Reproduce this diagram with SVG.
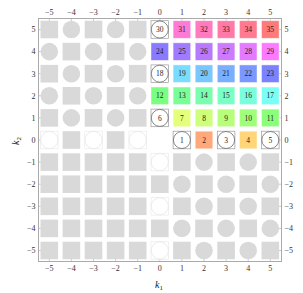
<svg xmlns="http://www.w3.org/2000/svg" xmlns:xlink="http://www.w3.org/1999/xlink" width="303" height="293" viewBox="0 0 303 293">
<style>
.gs{fill:#d9d9d9}
.cs{stroke:#ffffff;stroke-opacity:0.55;stroke-width:0.8}
.num{font-family:"Liberation Serif",serif;font-size:7.5px;text-anchor:middle;fill:#222}
.tl{font-family:"Liberation Serif",serif;font-size:8px;fill:#333}
.ax{fill:none;stroke:#aaaaaa;stroke-width:1}
.tk{stroke:#aaaaaa;stroke-width:0.6}
.lab{font-family:"Liberation Serif",serif;font-size:10px;font-style:italic;fill:#222}
</style>
<defs>
<rect id="gsq" class="gs" x="-8.8" y="-8.8" width="17.6" height="17.6"/>
<circle id="gci" class="gs" r="8.8"/>
<g id="fci"><rect x="-8.8" y="-8.8" width="17.6" height="17.6" fill="#fff" stroke="#ececec" stroke-width="0.7"/><circle r="8.6" fill="#fff" stroke="#e2e2e2" stroke-width="0.7"/></g>
<g id="nci"><rect x="-8.8" y="-8.8" width="17.6" height="17.6" fill="#fff" stroke="#9a9a9a" stroke-width="0.7"/><circle r="8.5" fill="#fff" stroke="#555" stroke-width="0.7"/></g>
<rect id="csq" class="cs" x="-8.8" y="-8.8" width="17.6" height="17.6"/>
</defs>
<g id="connectors"></g>
<g id="axes">
<rect class="ax" x="38.5" y="18.5" width="243" height="243"/>
<path class="tk" d="M49.3,18.5v3M71.4,18.5v3M93.5,18.5v3M115.6,18.5v3M137.7,18.5v3M159.8,18.5v3M181.9,18.5v3M204,18.5v3M226.1,18.5v3M248.2,18.5v3M270.3,18.5v3M49.3,261.5v-3M71.4,261.5v-3M93.5,261.5v-3M115.6,261.5v-3M137.7,261.5v-3M159.8,261.5v-3M181.9,261.5v-3M204,261.5v-3M226.1,261.5v-3M248.2,261.5v-3M270.3,261.5v-3M38.5,29.5h3M38.5,51.6h3M38.5,73.7h3M38.5,95.8h3M38.5,117.9h3M38.5,140h3M38.5,162.1h3M38.5,184.2h3M38.5,206.3h3M38.5,228.4h3M38.5,250.5h3M281.5,29.5h-3M281.5,51.6h-3M281.5,73.7h-3M281.5,95.8h-3M281.5,117.9h-3M281.5,140h-3M281.5,162.1h-3M281.5,184.2h-3M281.5,206.3h-3M281.5,228.4h-3M281.5,250.5h-3"/>
<g class="tl" text-anchor="middle">
<text x="49.3" y="14.5">−5</text><text x="71.4" y="14.5">−4</text><text x="93.5" y="14.5">−3</text><text x="115.6" y="14.5">−2</text><text x="137.7" y="14.5">−1</text><text x="159.8" y="14.5">0</text><text x="181.9" y="14.5">1</text><text x="204" y="14.5">2</text><text x="226.1" y="14.5">3</text><text x="248.2" y="14.5">4</text><text x="270.3" y="14.5">5</text>
<text x="49.3" y="271">−5</text><text x="71.4" y="271">−4</text><text x="93.5" y="271">−3</text><text x="115.6" y="271">−2</text><text x="137.7" y="271">−1</text><text x="159.8" y="271">0</text><text x="181.9" y="271">1</text><text x="204" y="271">2</text><text x="226.1" y="271">3</text><text x="248.2" y="271">4</text><text x="270.3" y="271">5</text>
</g>
<g class="tl" text-anchor="end">
<text x="35.5" y="32.3">5</text><text x="35.5" y="54.4">4</text><text x="35.5" y="76.5">3</text><text x="35.5" y="98.6">2</text><text x="35.5" y="120.7">1</text><text x="35.5" y="142.8">0</text><text x="35.5" y="164.9">−1</text><text x="35.5" y="187">−2</text><text x="35.5" y="209.1">−3</text><text x="35.5" y="231.2">−4</text><text x="35.5" y="253.3">−5</text>
</g>
<g class="tl" text-anchor="start">
<text x="284.5" y="32.3">5</text><text x="284.5" y="54.4">4</text><text x="284.5" y="76.5">3</text><text x="284.5" y="98.6">2</text><text x="284.5" y="120.7">1</text><text x="284.5" y="142.8">0</text><text x="284.5" y="164.9">−1</text><text x="284.5" y="187">−2</text><text x="284.5" y="209.1">−3</text><text x="284.5" y="231.2">−4</text><text x="284.5" y="253.3">−5</text>
</g>
<text class="lab" x="155" y="287.5">k<tspan font-size="7" dy="2" font-style="normal">1</tspan></text>
<text class="lab" transform="translate(19,145) rotate(-90)">k<tspan font-size="7" dy="2" font-style="normal">2</tspan></text>
</g>
<g id="cells">
<!-- row 5 -->
<g id="c_m5_5" transform="translate(49.3,29.5)"><use href="#gsq"/></g>
<g id="c_m4_5" transform="translate(71.4,29.5)"><use href="#gci"/></g>
<g id="c_m3_5" transform="translate(93.5,29.5)"><use href="#gsq"/></g>
<g id="c_m2_5" transform="translate(115.6,29.5)"><use href="#gci"/></g>
<g id="c_m1_5" transform="translate(137.7,29.5)"><use href="#gsq"/></g>
<g id="n30" transform="translate(159.8,29.5)"><use href="#nci"/><text class="num" y="2.6">30</text></g>
<g id="n31" transform="translate(181.9,29.5)"><use href="#csq" fill="#FF7AD5"/><text class="num" y="2.6">31</text></g>
<g id="n32" transform="translate(204,29.5)"><use href="#csq" fill="#FF7ABE"/><text class="num" y="2.6">32</text></g>
<g id="n33" transform="translate(226.1,29.5)"><use href="#csq" fill="#FF7AA8"/><text class="num" y="2.6">33</text></g>
<g id="n34" transform="translate(248.2,29.5)"><use href="#csq" fill="#FF7A91"/><text class="num" y="2.6">34</text></g>
<g id="n35" transform="translate(270.3,29.5)"><use href="#csq" fill="#FF7A7A"/><text class="num" y="2.6">35</text></g>
<!-- row 4 -->
<g id="c_m5_4" transform="translate(49.3,51.6)"><use href="#gci"/></g>
<g id="c_m4_4" transform="translate(71.4,51.6)"><use href="#gsq"/></g>
<g id="c_m3_4" transform="translate(93.5,51.6)"><use href="#gci"/></g>
<g id="c_m2_4" transform="translate(115.6,51.6)"><use href="#gsq"/></g>
<g id="c_m1_4" transform="translate(137.7,51.6)"><use href="#gci"/></g>
<g id="n24" transform="translate(159.8,51.6)"><use href="#csq" fill="#897AFF"/><text class="num" y="2.6">24</text></g>
<g id="n25" transform="translate(181.9,51.6)"><use href="#csq" fill="#A07AFF"/><text class="num" y="2.6">25</text></g>
<g id="n26" transform="translate(204,51.6)"><use href="#csq" fill="#B77AFF"/><text class="num" y="2.6">26</text></g>
<g id="n27" transform="translate(226.1,51.6)"><use href="#csq" fill="#CE7AFF"/><text class="num" y="2.6">27</text></g>
<g id="n28" transform="translate(248.2,51.6)"><use href="#csq" fill="#E47AFF"/><text class="num" y="2.6">28</text></g>
<g id="n29" transform="translate(270.3,51.6)"><use href="#csq" fill="#FB7AFF"/><text class="num" y="2.6">29</text></g>
<!-- row 3 -->
<g id="c_m5_3" transform="translate(49.3,73.7)"><use href="#gsq"/></g>
<g id="c_m4_3" transform="translate(71.4,73.7)"><use href="#gci"/></g>
<g id="c_m3_3" transform="translate(93.5,73.7)"><use href="#gsq"/></g>
<g id="c_m2_3" transform="translate(115.6,73.7)"><use href="#gci"/></g>
<g id="c_m1_3" transform="translate(137.7,73.7)"><use href="#gsq"/></g>
<g id="n18" transform="translate(159.8,73.7)"><use href="#nci"/><text class="num" y="2.6">18</text></g>
<g id="n19" transform="translate(181.9,73.7)"><use href="#csq" fill="#7ADDFF"/><text class="num" y="2.6">19</text></g>
<g id="n20" transform="translate(204,73.7)"><use href="#csq" fill="#7AC6FF"/><text class="num" y="2.6">20</text></g>
<g id="n21" transform="translate(226.1,73.7)"><use href="#csq" fill="#7AAFFF"/><text class="num" y="2.6">21</text></g>
<g id="n22" transform="translate(248.2,73.7)"><use href="#csq" fill="#7A98FF"/><text class="num" y="2.6">22</text></g>
<g id="n23" transform="translate(270.3,73.7)"><use href="#csq" fill="#7A82FF"/><text class="num" y="2.6">23</text></g>
<!-- row 2 -->
<g id="c_m5_2" transform="translate(49.3,95.8)"><use href="#gci"/></g>
<g id="c_m4_2" transform="translate(71.4,95.8)"><use href="#gsq"/></g>
<g id="c_m3_2" transform="translate(93.5,95.8)"><use href="#gci"/></g>
<g id="c_m2_2" transform="translate(115.6,95.8)"><use href="#gsq"/></g>
<g id="c_m1_2" transform="translate(137.7,95.8)"><use href="#gci"/></g>
<g id="n12" transform="translate(159.8,95.8)"><use href="#csq" fill="#7AFF82"/><text class="num" y="2.6">12</text></g>
<g id="n13" transform="translate(181.9,95.8)"><use href="#csq" fill="#7AFF98"/><text class="num" y="2.6">13</text></g>
<g id="n14" transform="translate(204,95.8)"><use href="#csq" fill="#7AFFAF"/><text class="num" y="2.6">14</text></g>
<g id="n15" transform="translate(226.1,95.8)"><use href="#csq" fill="#7AFFC6"/><text class="num" y="2.6">15</text></g>
<g id="n16" transform="translate(248.2,95.8)"><use href="#csq" fill="#7AFFDD"/><text class="num" y="2.6">16</text></g>
<g id="n17" transform="translate(270.3,95.8)"><use href="#csq" fill="#7AFFF4"/><text class="num" y="2.6">17</text></g>
<!-- row 1 -->
<g id="c_m5_1" transform="translate(49.3,117.9)"><use href="#gsq"/></g>
<g id="c_m4_1" transform="translate(71.4,117.9)"><use href="#gci"/></g>
<g id="c_m3_1" transform="translate(93.5,117.9)"><use href="#gsq"/></g>
<g id="c_m2_1" transform="translate(115.6,117.9)"><use href="#gci"/></g>
<g id="c_m1_1" transform="translate(137.7,117.9)"><use href="#gsq"/></g>
<g id="n6" transform="translate(159.8,117.9)"><use href="#nci"/><text class="num" y="2.6">6</text></g>
<g id="n7" transform="translate(181.9,117.9)"><use href="#csq" fill="#E4FF7A"/><text class="num" y="2.6">7</text></g>
<g id="n8" transform="translate(204,117.9)"><use href="#csq" fill="#CEFF7A"/><text class="num" y="2.6">8</text></g>
<g id="n9" transform="translate(226.1,117.9)"><use href="#csq" fill="#B7FF7A"/><text class="num" y="2.6">9</text></g>
<g id="n10" transform="translate(248.2,117.9)"><use href="#csq" fill="#A0FF7A"/><text class="num" y="2.6">10</text></g>
<g id="n11" transform="translate(270.3,117.9)"><use href="#csq" fill="#89FF7A"/><text class="num" y="2.6">11</text></g>
<!-- row 0 -->
<g id="c_m5_0" transform="translate(49.3,140)"><use href="#fci"/></g>
<g id="c_m4_0" transform="translate(71.4,140)"><use href="#gsq"/></g>
<g id="c_m3_0" transform="translate(93.5,140)"><use href="#fci"/></g>
<g id="c_m2_0" transform="translate(115.6,140)"><use href="#gsq"/></g>
<g id="c_m1_0" transform="translate(137.7,140)"><use href="#fci"/></g>
<g id="n1" transform="translate(181.9,140)"><use href="#nci"/><text class="num" y="2.6">1</text></g>
<g id="n2" transform="translate(204,140)"><use href="#csq" fill="#FFA87A"/><text class="num" y="2.6">2</text></g>
<g id="n3" transform="translate(226.1,140)"><use href="#nci"/><text class="num" y="2.6">3</text></g>
<g id="n4" transform="translate(248.2,140)"><use href="#csq" fill="#FFD57A"/><text class="num" y="2.6">4</text></g>
<g id="n5" transform="translate(270.3,140)"><use href="#nci"/><text class="num" y="2.6">5</text></g>
<!-- row -1 -->
<g id="c_m5_m1" transform="translate(49.3,162.1)"><use href="#gsq"/></g>
<g id="c_m4_m1" transform="translate(71.4,162.1)"><use href="#gsq"/></g>
<g id="c_m3_m1" transform="translate(93.5,162.1)"><use href="#gsq"/></g>
<g id="c_m2_m1" transform="translate(115.6,162.1)"><use href="#gsq"/></g>
<g id="c_m1_m1" transform="translate(137.7,162.1)"><use href="#gsq"/></g>
<g id="c_0_m1" transform="translate(159.8,162.1)"><use href="#fci"/></g>
<g id="c_1_m1" transform="translate(181.9,162.1)"><use href="#gsq"/></g>
<g id="c_2_m1" transform="translate(204,162.1)"><use href="#gci"/></g>
<g id="c_3_m1" transform="translate(226.1,162.1)"><use href="#gsq"/></g>
<g id="c_4_m1" transform="translate(248.2,162.1)"><use href="#gci"/></g>
<g id="c_5_m1" transform="translate(270.3,162.1)"><use href="#gsq"/></g>
<!-- row -2 -->
<g id="c_m5_m2" transform="translate(49.3,184.2)"><use href="#gsq"/></g>
<g id="c_m4_m2" transform="translate(71.4,184.2)"><use href="#gsq"/></g>
<g id="c_m3_m2" transform="translate(93.5,184.2)"><use href="#gsq"/></g>
<g id="c_m2_m2" transform="translate(115.6,184.2)"><use href="#gsq"/></g>
<g id="c_m1_m2" transform="translate(137.7,184.2)"><use href="#gsq"/></g>
<g id="c_0_m2" transform="translate(159.8,184.2)"><use href="#gsq"/></g>
<g id="c_1_m2" transform="translate(181.9,184.2)"><use href="#gci"/></g>
<g id="c_2_m2" transform="translate(204,184.2)"><use href="#gsq"/></g>
<g id="c_3_m2" transform="translate(226.1,184.2)"><use href="#gci"/></g>
<g id="c_4_m2" transform="translate(248.2,184.2)"><use href="#gsq"/></g>
<g id="c_5_m2" transform="translate(270.3,184.2)"><use href="#gci"/></g>
<!-- row -3 -->
<g id="c_m5_m3" transform="translate(49.3,206.3)"><use href="#gsq"/></g>
<g id="c_m4_m3" transform="translate(71.4,206.3)"><use href="#gsq"/></g>
<g id="c_m3_m3" transform="translate(93.5,206.3)"><use href="#gsq"/></g>
<g id="c_m2_m3" transform="translate(115.6,206.3)"><use href="#gsq"/></g>
<g id="c_m1_m3" transform="translate(137.7,206.3)"><use href="#gsq"/></g>
<g id="c_0_m3" transform="translate(159.8,206.3)"><use href="#fci"/></g>
<g id="c_1_m3" transform="translate(181.9,206.3)"><use href="#gsq"/></g>
<g id="c_2_m3" transform="translate(204,206.3)"><use href="#gci"/></g>
<g id="c_3_m3" transform="translate(226.1,206.3)"><use href="#gsq"/></g>
<g id="c_4_m3" transform="translate(248.2,206.3)"><use href="#gci"/></g>
<g id="c_5_m3" transform="translate(270.3,206.3)"><use href="#gsq"/></g>
<!-- row -4 -->
<g id="c_m5_m4" transform="translate(49.3,228.4)"><use href="#gsq"/></g>
<g id="c_m4_m4" transform="translate(71.4,228.4)"><use href="#gsq"/></g>
<g id="c_m3_m4" transform="translate(93.5,228.4)"><use href="#gsq"/></g>
<g id="c_m2_m4" transform="translate(115.6,228.4)"><use href="#gsq"/></g>
<g id="c_m1_m4" transform="translate(137.7,228.4)"><use href="#gsq"/></g>
<g id="c_0_m4" transform="translate(159.8,228.4)"><use href="#gsq"/></g>
<g id="c_1_m4" transform="translate(181.9,228.4)"><use href="#gci"/></g>
<g id="c_2_m4" transform="translate(204,228.4)"><use href="#gsq"/></g>
<g id="c_3_m4" transform="translate(226.1,228.4)"><use href="#gci"/></g>
<g id="c_4_m4" transform="translate(248.2,228.4)"><use href="#gsq"/></g>
<g id="c_5_m4" transform="translate(270.3,228.4)"><use href="#gci"/></g>
<!-- row -5 -->
<g id="c_m5_m5" transform="translate(49.3,250.5)"><use href="#gsq"/></g>
<g id="c_m4_m5" transform="translate(71.4,250.5)"><use href="#gsq"/></g>
<g id="c_m3_m5" transform="translate(93.5,250.5)"><use href="#gsq"/></g>
<g id="c_m2_m5" transform="translate(115.6,250.5)"><use href="#gsq"/></g>
<g id="c_m1_m5" transform="translate(137.7,250.5)"><use href="#gsq"/></g>
<g id="c_0_m5" transform="translate(159.8,250.5)"><use href="#fci"/></g>
<g id="c_1_m5" transform="translate(181.9,250.5)"><use href="#gsq"/></g>
<g id="c_2_m5" transform="translate(204,250.5)"><use href="#gci"/></g>
<g id="c_3_m5" transform="translate(226.1,250.5)"><use href="#gsq"/></g>
<g id="c_4_m5" transform="translate(248.2,250.5)"><use href="#gci"/></g>
<g id="c_5_m5" transform="translate(270.3,250.5)"><use href="#gsq"/></g>
</g>
</svg>
